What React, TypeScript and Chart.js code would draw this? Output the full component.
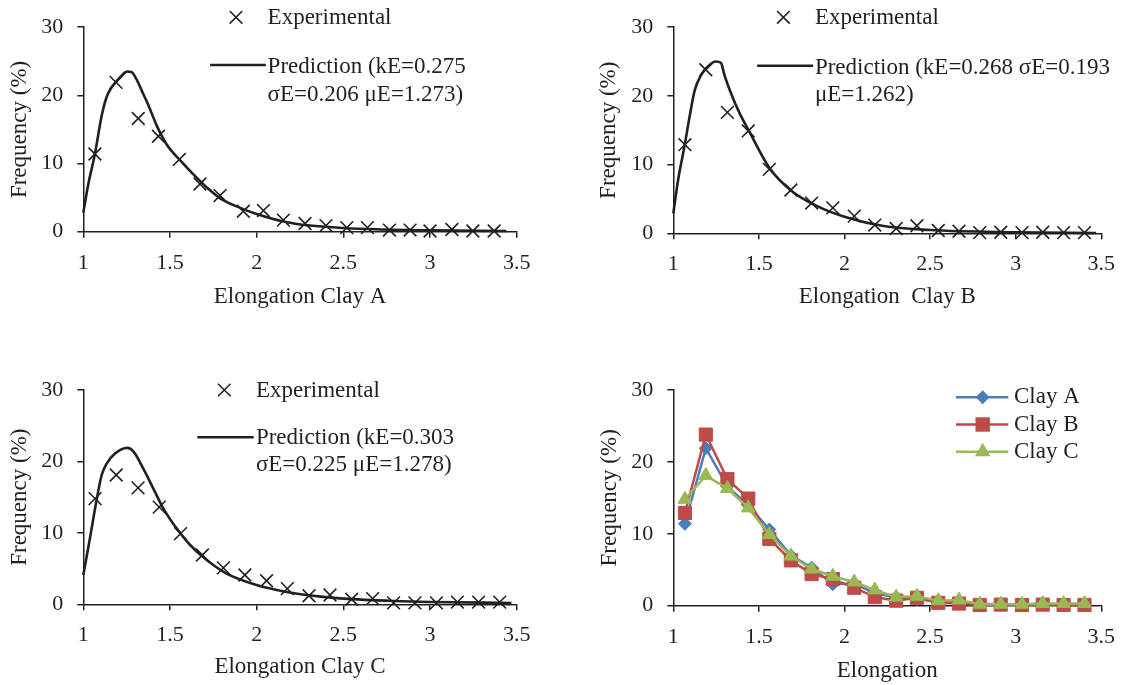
import React, { useEffect, useRef } from 'react';
import { Chart, registerables } from 'chart.js';

Chart.register(...registerables);

const FONT = '"Liberation Serif", "Times New Roman", Times, serif';
const INK = '#231F20';
const BLUE = '#4A7EBB';
const RED = '#BE4B48';
const GREEN = '#98B954';

// ---------- data ----------
const xTickValues = [1, 1.5, 2, 2.5, 3, 3.5];
const yTickValues = [0, 10, 20, 30];

// bin centres (elongation) as plotted in panels B, C and D
const elongation = [1.068, 1.19, 1.316, 1.438, 1.561, 1.687, 1.808, 1.932, 2.057, 2.177, 2.302, 2.423, 2.548, 2.669, 2.79, 2.913, 3.037, 3.158, 3.28, 3.402];
// bin centres as plotted in panel A
const elongationA = [1.067, 1.189, 1.317, 1.433, 1.554, 1.673, 1.789, 1.923, 2.039, 2.154, 2.279, 2.4, 2.52, 2.639, 2.766, 2.885, 3.0, 3.126, 3.247, 3.37];

const freqA = [11.4, 21.9, 16.6, 14.0, 10.6, 7.0, 5.3, 3.0, 3.1, 1.7, 1.2, 0.9, 0.6, 0.6, 0.24, 0.24, 0.1, 0.33, 0.1, 0.1];
const freqB = [12.9, 23.8, 17.6, 14.9, 9.3, 6.3, 4.4, 3.7, 2.5, 1.2, 0.7, 1.1, 0.4, 0.3, 0.1, 0.15, 0.1, 0.15, 0.1, 0.1];
const freqC = [14.8, 18.1, 16.3, 13.6, 9.9, 6.9, 5.1, 4.1, 3.3, 2.2, 1.2, 1.3, 0.7, 0.8, 0.2, 0.2, 0.2, 0.3, 0.3, 0.3];

const predAx = [1.0, 1.029, 1.067, 1.106, 1.135, 1.164, 1.189, 1.221, 1.254, 1.279, 1.308, 1.337, 1.375, 1.423, 1.481, 1.554, 1.635, 1.712, 1.789, 1.904, 2.0, 2.154, 2.308, 2.5, 2.69, 3.0, 3.44];
const predAy = [2.8, 7.0, 11.4, 17.0, 19.8, 21.2, 22.0, 22.9, 23.5, 23.4, 22.3, 20.7, 18.6, 15.6, 12.8, 10.6, 8.4, 6.5, 4.9, 3.5, 2.6, 1.5, 0.9, 0.55, 0.35, 0.2, 0.1];

const predBx = [1.0, 1.029, 1.067, 1.096, 1.125, 1.164, 1.202, 1.25, 1.279, 1.298, 1.337, 1.385, 1.442, 1.562, 1.689, 1.837, 2.015, 2.22, 2.5, 3.0, 3.47];
const predBy = [2.9, 7.9, 12.9, 17.1, 20.8, 23.1, 24.3, 25.0, 24.8, 23.1, 20.4, 17.6, 14.9, 9.5, 6.2, 4.0, 2.3, 1.1, 0.47, 0.15, 0.05];

const predCx = [1.0, 1.038, 1.073, 1.106, 1.135, 1.183, 1.254, 1.289, 1.346, 1.404, 1.462, 1.539, 1.616, 1.712, 1.827, 2.0, 2.165, 2.37, 2.5, 2.79, 3.0, 3.47];
const predCy = [4.1, 9.2, 14.1, 18.1, 19.7, 21.1, 21.9, 21.4, 19.0, 16.2, 13.4, 10.6, 8.3, 6.2, 4.3, 2.7, 1.77, 1.07, 0.8, 0.47, 0.33, 0.19];

const legendExp = 'Experimental';
const legendPredA = ['Prediction (kE=0.275', 'σE=0.206 μE=1.273)'];
const legendPredB = ['Prediction (kE=0.268 σE=0.193', 'μE=1.262)'];
const legendPredC = ['Prediction (kE=0.303', 'σE=0.225 μE=1.278)'];
const clayLabels = ['Clay A', 'Clay B', 'Clay C'];

const yTitle = 'Frequency (%)';

// ---------- helpers ----------
const pts = (xs: number[], ys: number[]) => xs.map((x, i) => ({ x, y: ys[i] }));

type Geo = {
  left: number; top: number; width: number; height: number;
  plotLeft: number; plotRight: number; plotTop: number; plotBottom: number;
  titleY: number; yTitleX: number;
};

const geoA: Geo = { left: 0, top: 0, width: 560, height: 330, plotLeft: 83.3, plotRight: 516.7, plotTop: 16.7, plotBottom: 231.7, titleY: 296.7, yTitleX: 19.7 };
const geoB: Geo = { left: 590, top: 0, width: 537, height: 330, plotLeft: 673.3, plotRight: 1106.7, plotTop: 17.3, plotBottom: 233.3, titleY: 296.7, yTitleX: 609 };
const geoC: Geo = { left: 0, top: 360, width: 560, height: 325, plotLeft: 83.3, plotRight: 516.7, plotTop: 390, plotBottom: 604.3, titleY: 667, yTitleX: 19.6 };
const geoD: Geo = { left: 590, top: 360, width: 537, height: 325, plotLeft: 673.3, plotRight: 1106.7, plotTop: 390, plotBottom: 605.7, titleY: 670.5, yTitleX: 609.8 };

const TICK_SIZE = 22;
const TITLE_SIZE = 23;
const LEGEND_SIZE = 23;

const fmt = (v: any) => String(Number(v));

function scalesFor(geo: Geo, xTitle: string) {
  const yW = geo.plotLeft - geo.left;
  const xH = geo.top + geo.height - geo.plotBottom;
  const half = (TITLE_SIZE * 1.2) / 2;
  const gridOpts = { drawOnChartArea: false, drawTicks: true, tickLength: 6, color: INK, lineWidth: 1.5 };
  const borderOpts = { display: true, color: INK, width: 1.5 };
  return {
    x: {
      type: 'linear',
      min: 1,
      max: 3.5,
      afterBuildTicks: (s: any) => { s.ticks = xTickValues.map((v) => ({ value: v })); },
      ticks: { padding: 12, color: INK, font: { family: FONT, size: TICK_SIZE }, maxRotation: 0, autoSkip: false, callback: fmt },
      grid: gridOpts,
      border: borderOpts,
      title: {
        display: true, text: xTitle, color: INK,
        font: { family: FONT, size: TITLE_SIZE },
        padding: { top: 0, bottom: geo.top + geo.height - geo.titleY - half },
      },
      afterFit: (s: any) => { s.height = xH; },
    },
    y: {
      type: 'linear',
      min: 0,
      max: 30,
      afterBuildTicks: (s: any) => { s.ticks = yTickValues.map((v) => ({ value: v })); },
      ticks: { padding: 14, color: INK, font: { family: FONT, size: TICK_SIZE }, callback: fmt },
      grid: gridOpts,
      border: borderOpts,
      title: {
        display: true, text: yTitle, color: INK,
        font: { family: FONT, size: TITLE_SIZE },
        padding: { top: geo.yTitleX - geo.left - half, bottom: 0 },
      },
      afterFit: (s: any) => { s.width = yW; },
    },
  };
}

type FitLegend = {
  crossX: number; crossY: number; textX: number; expY: number;
  lineX1: number; lineX2: number; lineY: number; predY: number; gap: number; lines: string[];
};

function fitLegendPlugin(geo: Geo, lg: FitLegend) {
  return {
    id: 'fitLegend',
    afterDraw(chart: any) {
      const ctx = chart.ctx as CanvasRenderingContext2D;
      const ox = geo.left;
      const oy = geo.top;
      ctx.save();
      ctx.strokeStyle = INK;
      ctx.lineWidth = 1.6;
      const d = 6.3;
      const cx = lg.crossX - ox;
      const cy = lg.crossY - oy;
      ctx.beginPath();
      ctx.moveTo(cx - d, cy - d); ctx.lineTo(cx + d, cy + d);
      ctx.moveTo(cx - d, cy + d); ctx.lineTo(cx + d, cy - d);
      ctx.stroke();
      ctx.lineWidth = 2.6;
      ctx.beginPath();
      ctx.moveTo(lg.lineX1 - ox, lg.lineY - oy);
      ctx.lineTo(lg.lineX2 - ox, lg.lineY - oy);
      ctx.stroke();
      ctx.fillStyle = INK;
      ctx.font = `${LEGEND_SIZE}px ${FONT}`;
      ctx.textAlign = 'left';
      ctx.textBaseline = 'middle';
      ctx.fillText(legendExp, lg.textX - ox, lg.expY - oy);
      lg.lines.forEach((t, i) => ctx.fillText(t, lg.textX - ox, lg.predY - oy + i * lg.gap));
      ctx.restore();
    },
  };
}

function clayLegendPlugin(geo: Geo) {
  const colors = [BLUE, RED, GREEN];
  const rows = [397.3, 424.5, 451.7];
  return {
    id: 'clayLegend',
    afterDraw(chart: any) {
      const ctx = chart.ctx as CanvasRenderingContext2D;
      const x1 = 956 - geo.left;
      const x2 = 1008.3 - geo.left;
      const mx = 982.7 - geo.left;
      const tx = 1014 - geo.left;
      ctx.save();
      rows.forEach((ry, i) => {
        const y = ry - geo.top;
        const c = colors[i];
        ctx.strokeStyle = c;
        ctx.fillStyle = c;
        ctx.lineWidth = 2.5;
        ctx.beginPath();
        ctx.moveTo(x1, y); ctx.lineTo(x2, y);
        ctx.stroke();
        ctx.beginPath();
        if (i === 0) {
          const r = 7;
          ctx.moveTo(mx, y - r); ctx.lineTo(mx + r, y); ctx.lineTo(mx, y + r); ctx.lineTo(mx - r, y);
        } else if (i === 1) {
          const h = 7.2;
          ctx.rect(mx - h, y - h, 2 * h, 2 * h);
        } else {
          const r = 9;
          ctx.moveTo(mx, y - r);
          ctx.lineTo(mx + r * Math.sin((2 * Math.PI) / 3), y - r * Math.cos((2 * Math.PI) / 3));
          ctx.lineTo(mx - r * Math.sin((2 * Math.PI) / 3), y - r * Math.cos((2 * Math.PI) / 3));
        }
        ctx.closePath();
        ctx.fill();
        ctx.fillStyle = INK;
        ctx.font = `${LEGEND_SIZE}px ${FONT}`;
        ctx.textAlign = 'left';
        ctx.textBaseline = 'middle';
        ctx.fillText(clayLabels[i], tx, y);
      });
      ctx.restore();
    },
  };
}

function baseOptions(geo: Geo, xTitle: string) {
  return {
    responsive: false,
    maintainAspectRatio: false,
    animation: false,
    devicePixelRatio: 1,
    events: [],
    layout: {
      padding: {
        left: 0,
        top: geo.plotTop - geo.top,
        right: geo.left + geo.width - geo.plotRight,
        bottom: 0,
      },
    },
    plugins: { legend: { display: false }, tooltip: { enabled: false } },
    scales: scalesFor(geo, xTitle),
  };
}

function fitConfig(geo: Geo, xTitle: string, ex: number[], ey: number[], px: number[], py: number[], lg: FitLegend) {
  return {
    type: 'line',
    data: {
      datasets: [
        {
          label: 'Experimental',
          data: pts(ex, ey),
          showLine: false,
          pointStyle: 'crossRot',
          pointRadius: 9,
          pointBorderWidth: 1.6,
          pointBorderColor: INK,
          borderColor: INK,
          clip: false,
        },
        {
          label: 'Prediction',
          data: pts(px, py),
          borderColor: INK,
          borderWidth: 2.6,
          pointRadius: 0,
          cubicInterpolationMode: 'monotone',
          fill: false,
          clip: false,
        },
      ],
    },
    options: baseOptions(geo, xTitle),
    plugins: [fitLegendPlugin(geo, lg)],
  };
}

function clayConfig(geo: Geo) {
  const mk = (label: string, ys: number[], color: string, style: string, r: number, order: number) => ({
    label,
    data: pts(elongation, ys),
    borderColor: color,
    backgroundColor: color,
    borderWidth: 2.5,
    pointStyle: style,
    pointRadius: r,
    pointBackgroundColor: color,
    pointBorderColor: color,
    pointBorderWidth: 1,
    tension: 0,
    order,
    clip: false,
  });
  return {
    type: 'line',
    data: {
      datasets: [
        mk(clayLabels[0], freqA, BLUE, 'rectRot', 6.5, 3),
        mk(clayLabels[1], freqB, RED, 'rect', 9.3, 2),
        mk(clayLabels[2], freqC, GREEN, 'triangle', 8, 1),
      ],
    },
    options: baseOptions(geo, 'Elongation'),
    plugins: [clayLegendPlugin(geo)],
  };
}

function Panel({ geo, build }: { geo: Geo; build: () => any }) {
  const ref = useRef<HTMLCanvasElement | null>(null);
  useEffect(() => {
    if (!ref.current) return;
    const chart = new Chart(ref.current, build());
    return () => chart.destroy();
  }, []);
  return (
    <canvas
      ref={ref}
      width={geo.width}
      height={geo.height}
      style={{ position: 'absolute', left: geo.left, top: geo.top, width: geo.width, height: geo.height }}
    />
  );
}

export default function App() {
  Chart.defaults.font.family = FONT;
  return (
    <div style={{ position: 'absolute', left: 0, top: 0, width: 1127, height: 685, background: '#fff', overflow: 'hidden' }}>
      <Panel
        geo={geoA}
        build={() => fitConfig(geoA, 'Elongation Clay A', elongationA, freqA, predAx, predAy, {
          crossX: 236, crossY: 17.3, textX: 267.6, expY: 17.5,
          lineX1: 210.1, lineX2: 265.8, lineY: 65, predY: 66.7, gap: 27.8, lines: legendPredA,
        })}
      />
      <Panel
        geo={geoB}
        build={() => fitConfig(geoB, 'Elongation  Clay B', elongation, freqB, predBx, predBy, {
          crossX: 783.4, crossY: 17.3, textX: 814.9, expY: 17.5,
          lineX1: 757.1, lineX2: 813.1, lineY: 65.7, predY: 67.7, gap: 27.3, lines: legendPredB,
        })}
      />
      <Panel
        geo={geoC}
        build={() => fitConfig(geoC, 'Elongation Clay C', elongation, freqC, predCx, predCy, {
          crossX: 224.3, crossY: 390, textX: 255.9, expY: 390.5,
          lineX1: 197.4, lineX2: 253.7, lineY: 437.3, predY: 438.3, gap: 26.7, lines: legendPredC,
        })}
      />
      <Panel geo={geoD} build={() => clayConfig(geoD)} />
    </div>
  );
}
